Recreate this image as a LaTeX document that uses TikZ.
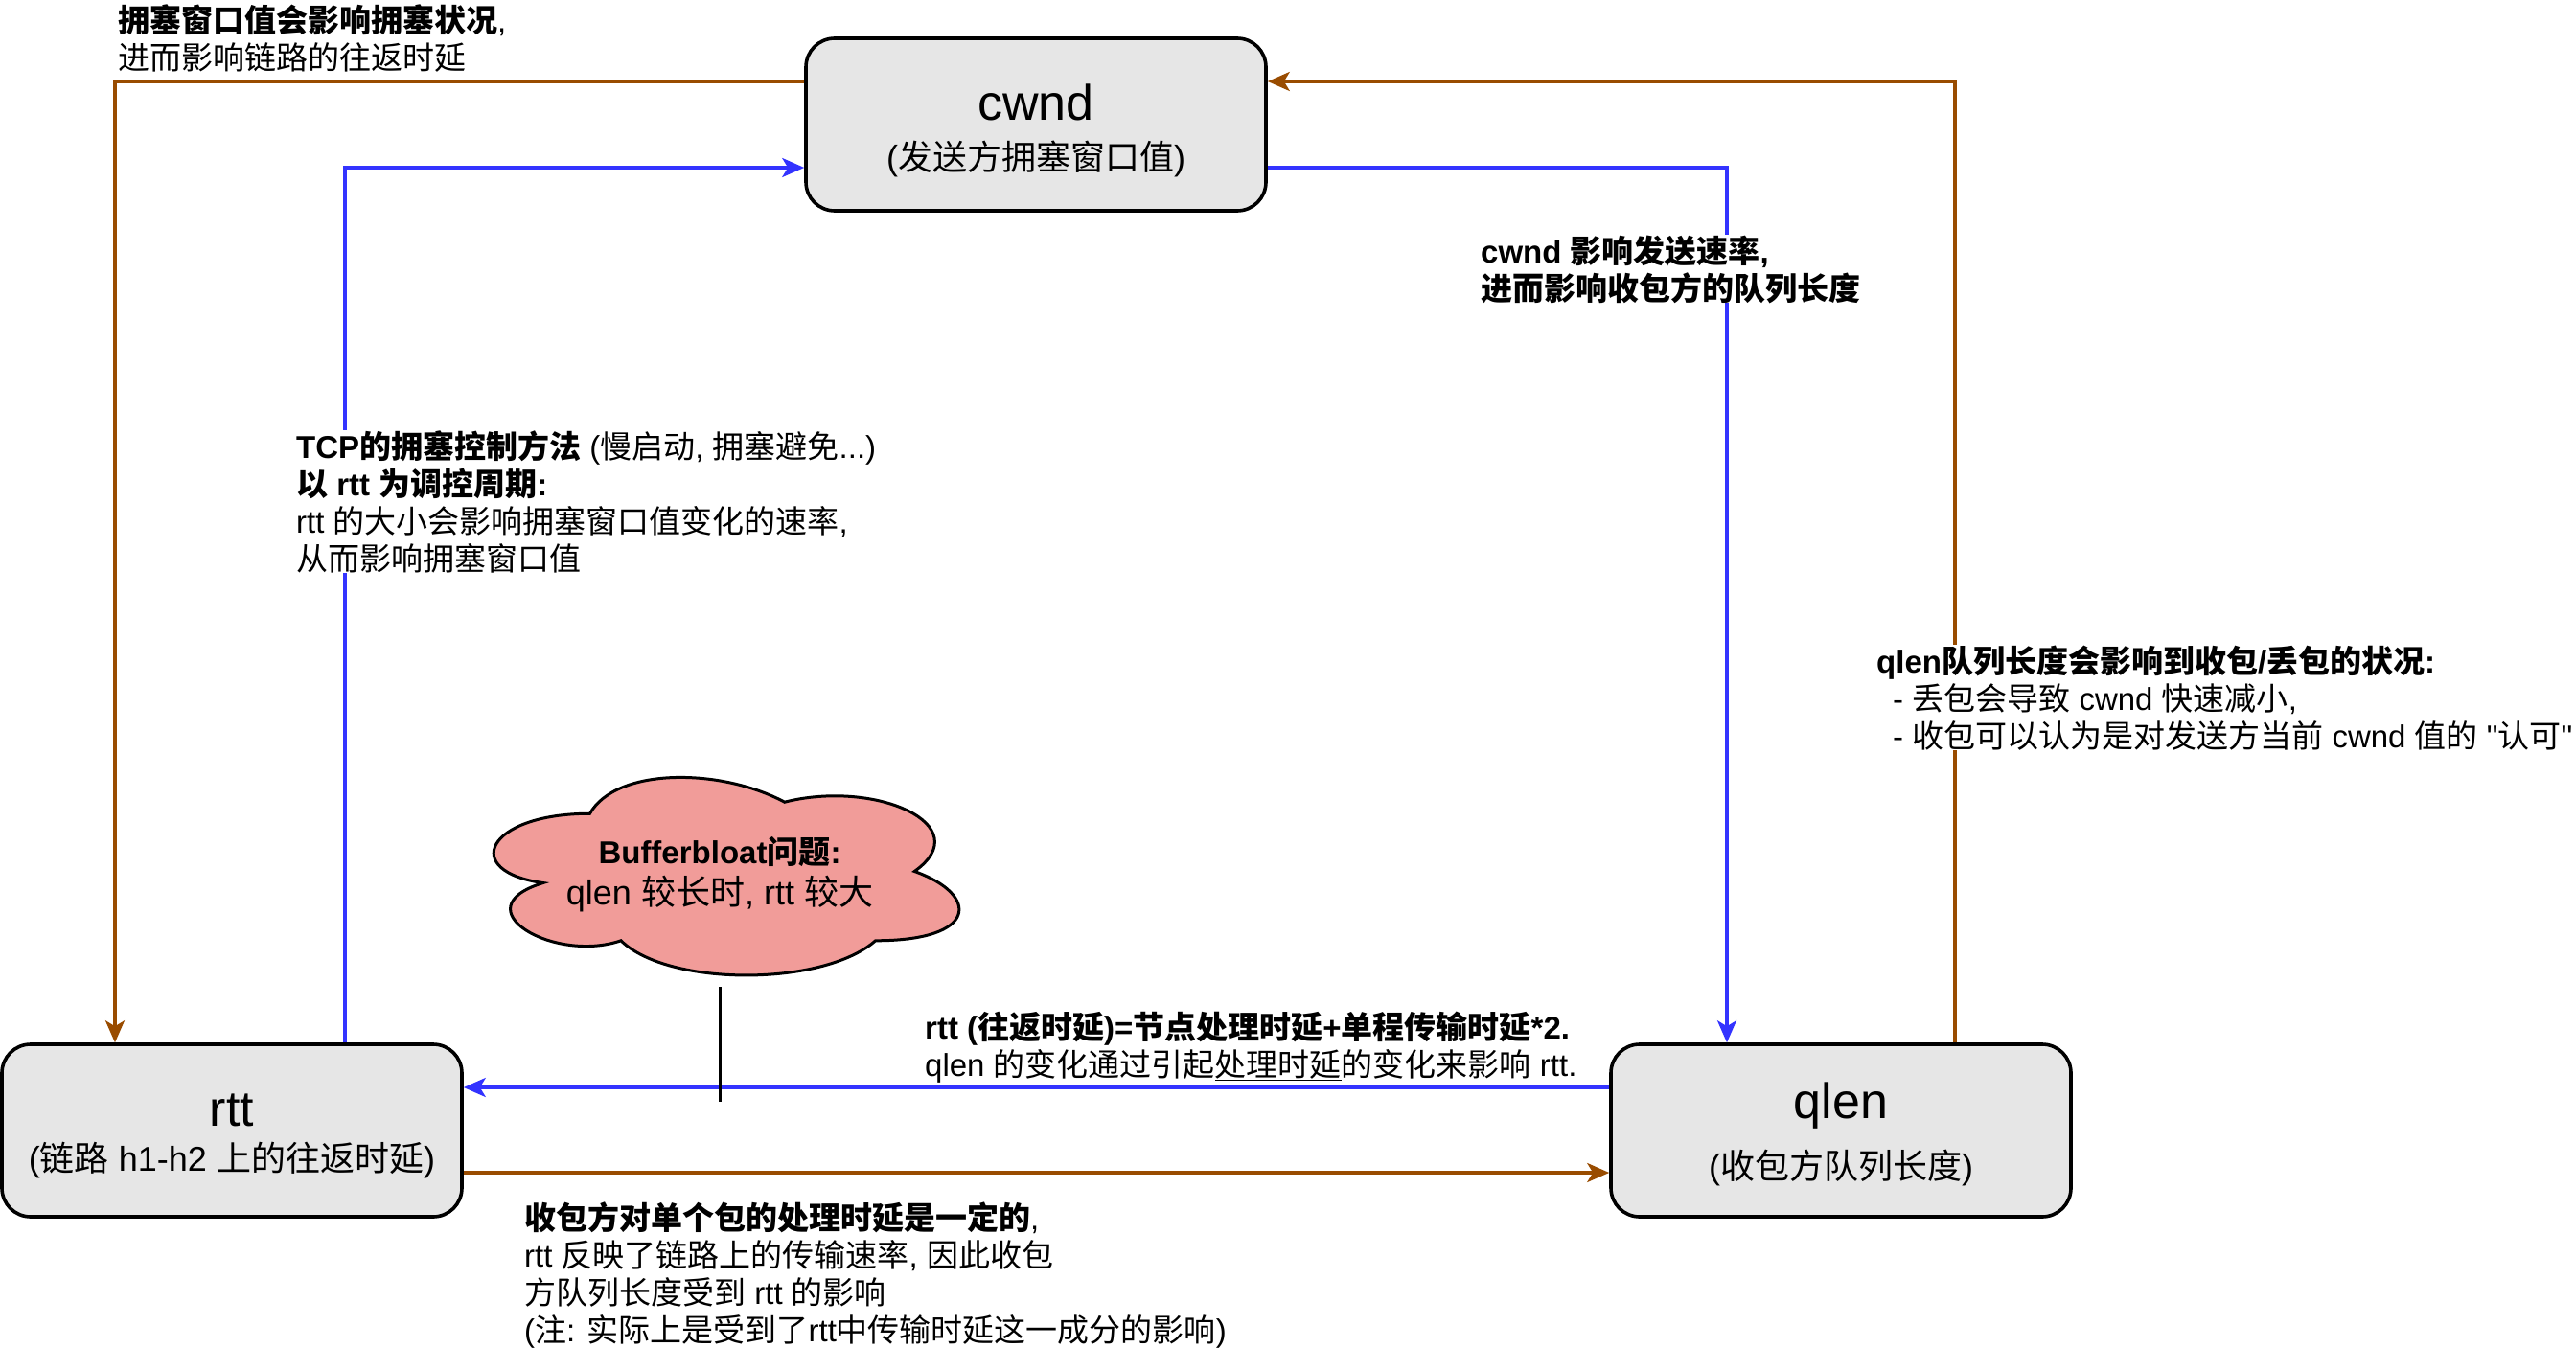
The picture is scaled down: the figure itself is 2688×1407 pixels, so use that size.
\documentclass[tikz,border=0pt]{standalone}
\usepackage{fontspec}
\setmainfont{Liberation Sans}[Ligatures=TeXOff]
\newfontfamily\cjkf{Noto Sans CJK SC}
\usetikzlibrary{arrows.meta}
\XeTeXinterchartokenstate=1
\newXeTeXintercharclass\CJKcls
\newcount\cjkcnt
\cjkcnt="4E00
\loop
  \XeTeXcharclass\cjkcnt=\CJKcls
  \advance\cjkcnt by 1
\ifnum\cjkcnt<"A000 \repeat
\XeTeXinterchartoks 0 \CJKcls = {\cjkf}
\XeTeXinterchartoks 4095 \CJKcls = {\cjkf}
\XeTeXinterchartoks \CJKcls 0 = {\rmfamily}
\XeTeXinterchartoks \CJKcls 4095 = {\rmfamily}
\definecolor{brn}{HTML}{994C00}
\definecolor{blu}{HTML}{3333FF}
\definecolor{boxfill}{HTML}{E6E6E6}
\definecolor{cloudfill}{HTML}{F19C99}
\tikzset{
  box/.style={draw=black, line width=3.6pt, fill=boxfill, rounded corners=30pt,
    minimum width=480pt, minimum height=180pt, inner sep=0pt},
  maintext/.style={font=\fontsize{52}{60}\selectfont, anchor=base, inner sep=0pt},
  subtext/.style={font=\fontsize{36}{43}\selectfont, anchor=base, inner sep=0pt},
  lbl/.style={font=\fontsize{33}{39}\selectfont, align=left, anchor=base west, inner sep=0pt},
  arr/.style={-{Stealth[length=23pt,width=20pt,inset=6pt]}},
  bconn/.style={draw=blu, line width=3.2pt, arr},
  rconn/.style={draw=brn, line width=3.2pt, arr},
}
\begin{document}
\begin{tikzpicture}[x=1pt,y=-1pt]
\fill[white] (0,0) rectangle (2688,1407);
\useasboundingbox (0,0) rectangle (2688,1407);

% boxes
\node[box] (cwnd) at (1081,130) {};
\node[maintext] (cwndt) at (1081,126) {cwnd};
\node[subtext] (cwnds) at (1081,178) {(发送方拥塞窗口值)};

\node[box] (rtt) at (242,1180) {};
\node[maintext] (rttt) at (242,1175) {rtt};
\node[subtext] (rtts) at (242,1222) {(链路 h1-h2 上的往返时延)};

\node[box] (qlen) at (1921,1180) {};
\node[maintext] (qlent) at (1921,1167) {qlen};
\node[subtext] (qlens) at (1921,1230) {(收包方队列长度)};

% cloud
\begin{scope}[shift={(480,789)}, x=542pt, y=-241pt]
\filldraw[fill=cloudfill, draw=black, line width=3pt]
  (0.25,0.25) .. controls (0.05,0.25) and (0,0.5) .. (0.16,0.55)
  .. controls (0,0.66) and (0.18,0.9) .. (0.31,0.8)
  .. controls (0.4,1) and (0.7,1) .. (0.8,0.8)
  .. controls (1,0.8) and (1,0.6) .. (0.875,0.5)
  .. controls (1,0.3) and (0.8,0.1) .. (0.625,0.2)
  .. controls (0.5,0.05) and (0.3,0.05) .. (0.25,0.25) -- cycle;
\end{scope}
\node[align=center, inner sep=0pt, font=\fontsize{33}{43}\selectfont] (cloud) at (751,913)
  {\textbf{Bufferbloat问题:}\\{\fontsize{36}{43}\selectfont qlen 较长时, rtt 较大}};

% connectors
\draw[rconn] ([yshift=45pt]cwnd.west) -| ([xshift=-122pt]rtt.north);
\draw[bconn] ([xshift=118pt]rtt.north) |- ([yshift=-45pt]cwnd.west);
\draw[bconn] ([yshift=-45pt]cwnd.east) -| ([xshift=-119pt]qlen.north);
\draw[rconn] ([xshift=119pt]qlen.north) |- ([yshift=45pt]cwnd.east);
\draw[bconn] ([yshift=45pt]qlen.west) -- ([yshift=45pt]rtt.east);
\draw[rconn] ([yshift=-44pt]rtt.east) -- ([yshift=-44pt]qlen.west);

\coordinate (bbtop) at (751,1030);
\coordinate (bbbot) at (751,1150);
\draw[line width=3pt] (bbtop) -- (bbbot);

% labels (anchor = baseline of the last line)
\node[lbl] (la) at (123,73) {\textbf{拥塞窗口值会影响拥塞状况},\\进而影响链路的往返时延};
\node[lbl, fill=white] (lb) at (309,595) {\textbf{TCP的拥塞控制方法} (慢启动, 拥塞避免...)\\\textbf{以 rtt 为调控周期:}\\rtt 的大小会影响拥塞窗口值变化的速率,\\从而影响拥塞窗口值};
\node[lbl, fill=white] (lc) at (1545,313) {\textbf{cwnd 影响发送速率,}\\\textbf{进而影响收包方的队列长度}};
\node[lbl, fill=white] (ld) at (1958,780) {\textbf{qlen队列长度会影响到收包/丢包的状况:}\\\hspace*{17pt}- 丢包会导致 cwnd 快速减小,\\\hspace*{17pt}- 收包可以认为是对发送方当前 cwnd 值的 "认可"};
\node[lbl] (le) at (965,1123) {\textbf{rtt (往返时延)=节点处理时延+单程传输时延*2.}\\qlen 的变化通过引起\underline{处理时延}的变化来影响 rtt.};
\node[lbl] (lf) at (547,1400) {\textbf{收包方对单个包的处理时延是一定的},\\rtt 反映了链路上的传输速率, 因此收包\\方队列长度受到 rtt 的影响\\(注: 实际上是受到了rtt中传输时延这一成分的影响)};
\end{tikzpicture}
\end{document}
